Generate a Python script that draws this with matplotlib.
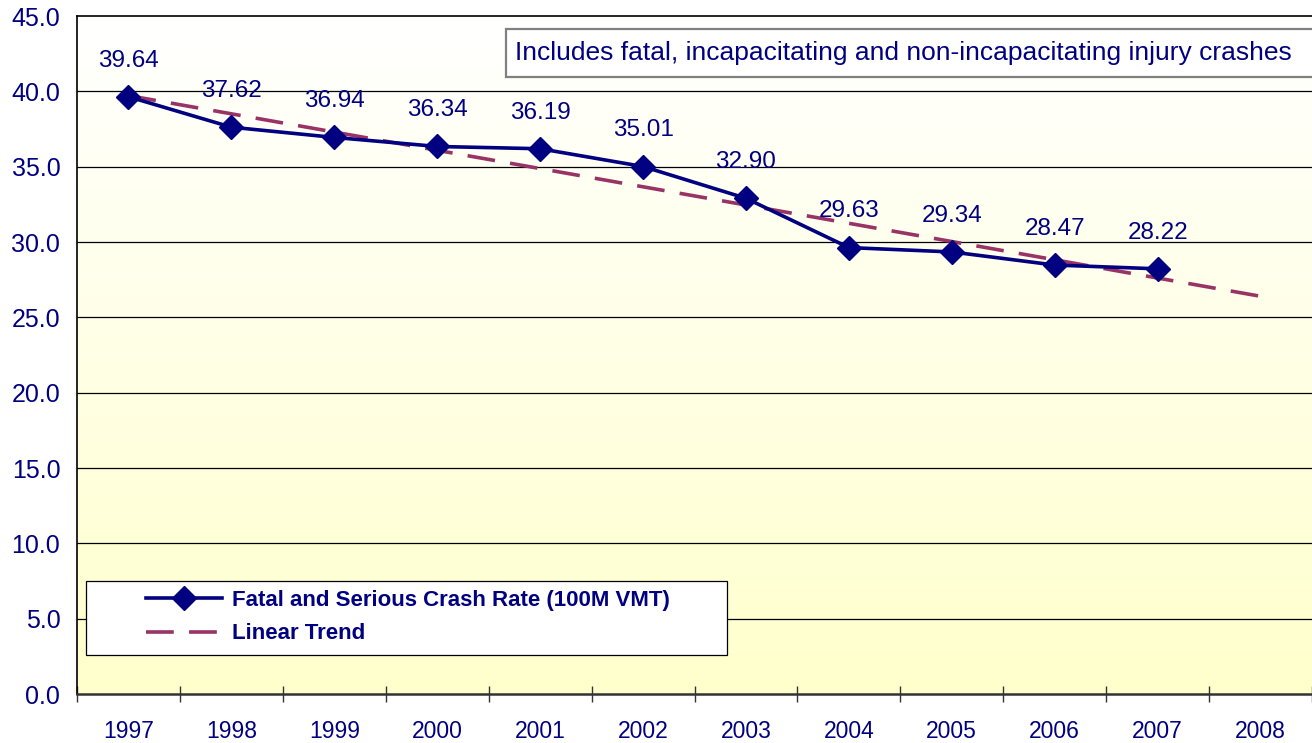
import numpy as np
import matplotlib
matplotlib.use("Agg")
import matplotlib.pyplot as plt
from matplotlib.patches import Rectangle

plt.rcParams["font.family"] = ["Liberation Sans", "DejaVu Sans"]
plt.rcParams["lines.scale_dashes"] = False

years = ["1997", "1998", "1999", "2000", "2001", "2002",
         "2003", "2004", "2005", "2006", "2007", "2008"]
crash_rate = [39.64, 37.62, 36.94, 36.34, 36.19, 35.01,
              32.90, 29.63, 29.34, 28.47, 28.22]
NAVY = "#000080"
PLUM = "#993366"

x_data = np.arange(len(crash_rate))
x_all = np.arange(len(years))
slope, intercept = np.polyfit(x_data, crash_rate, 1)
trend = slope * x_all + intercept

fig = plt.figure(figsize=(13.12, 7.43), dpi=100)
ax = fig.add_axes([77 / 1312, 1 - 694 / 743, 1 - 77 / 1312, (694 - 16) / 743])

# white-to-yellow gradient background
grad = np.linspace(0, 1, 256).reshape(-1, 1)
cmap = matplotlib.colors.LinearSegmentedColormap.from_list("bg", ["#FFFFFF", "#FFFFCC"])
ax.imshow(grad, cmap=cmap, aspect="auto", extent=[0, 1, 0, 1],
          transform=ax.transAxes, zorder=0)

ax.set_xlim(-0.5, 11.42)
ax.set_ylim(0, 45)

for yv in np.arange(5, 45, 5):
    ax.axhline(yv, color="black", lw=0.9, zorder=1)

ax.plot(x_all, trend, color=PLUM, lw=2.6, dashes=(20, 11), zorder=2,
        label="Linear Trend")
ax.plot(x_data, crash_rate, color=NAVY, lw=2.6, marker="D", ms=12.5,
        zorder=3, label="Fatal and Serious Crash Rate (100M VMT)")

for xi, v in zip(x_data, crash_rate):
    ax.annotate(f"{v:.2f}", (xi, v), xytext=(0, 26), textcoords="offset points",
                ha="center", va="center", fontsize=17.5, color=NAVY, zorder=4)

# axes styling
ax.set_yticks(np.arange(0, 46, 5))
ax.set_yticklabels([f"{t:.1f}" for t in np.arange(0, 46, 5)])
ax.tick_params(axis="y", length=0, pad=12, labelsize=18, labelcolor=NAVY)
ax.set_xticks(x_all)
ax.set_xticklabels(years)
ax.tick_params(axis="x", which="major", length=0, pad=19, labelsize=16.5,
               labelcolor=NAVY)
ax.set_xticks(np.arange(-0.5, 12, 1), minor=True)
ax.tick_params(axis="x", which="minor", direction="inout", length=11,
               width=1, color="#333333")
ax.spines["right"].set_visible(False)
ax.spines["top"].set_linewidth(1.2)
ax.spines["left"].set_linewidth(1.2)
ax.spines["bottom"].set_linewidth(1.8)
ax.spines["bottom"].set_color("#333333")

# note box
ax.add_patch(Rectangle((0.3474, 0.910), 0.7, 0.071, transform=ax.transAxes,
                       facecolor="white", edgecolor="#808080", lw=1.6,
                       zorder=5, clip_on=True))
ax.text(0.3547, 0.9454,
        "Includes fatal, incapacitating and non-incapacitating injury crashes",
        transform=ax.transAxes, ha="left", va="center", fontsize=19,
        color=NAVY, zorder=6)

# legend box
ax.add_patch(Rectangle((0.0073, 0.0575), 0.5190, 0.1092, transform=ax.transAxes,
                       facecolor="white", edgecolor="black", lw=0.9, zorder=5))
handles, labels = ax.get_legend_handles_labels()
leg = ax.legend(handles[::-1], labels[::-1], loc="upper left",
                bbox_to_anchor=(0.0559, 0.153), frameon=False, borderpad=0,
                borderaxespad=0, handlelength=3.4, handletextpad=0.45,
                labelspacing=0.55, prop={"weight": "bold", "size": 16})
leg.set_zorder(6)
for t in leg.get_texts():
    t.set_color(NAVY)

fig.savefig("out.png", dpi=100)
